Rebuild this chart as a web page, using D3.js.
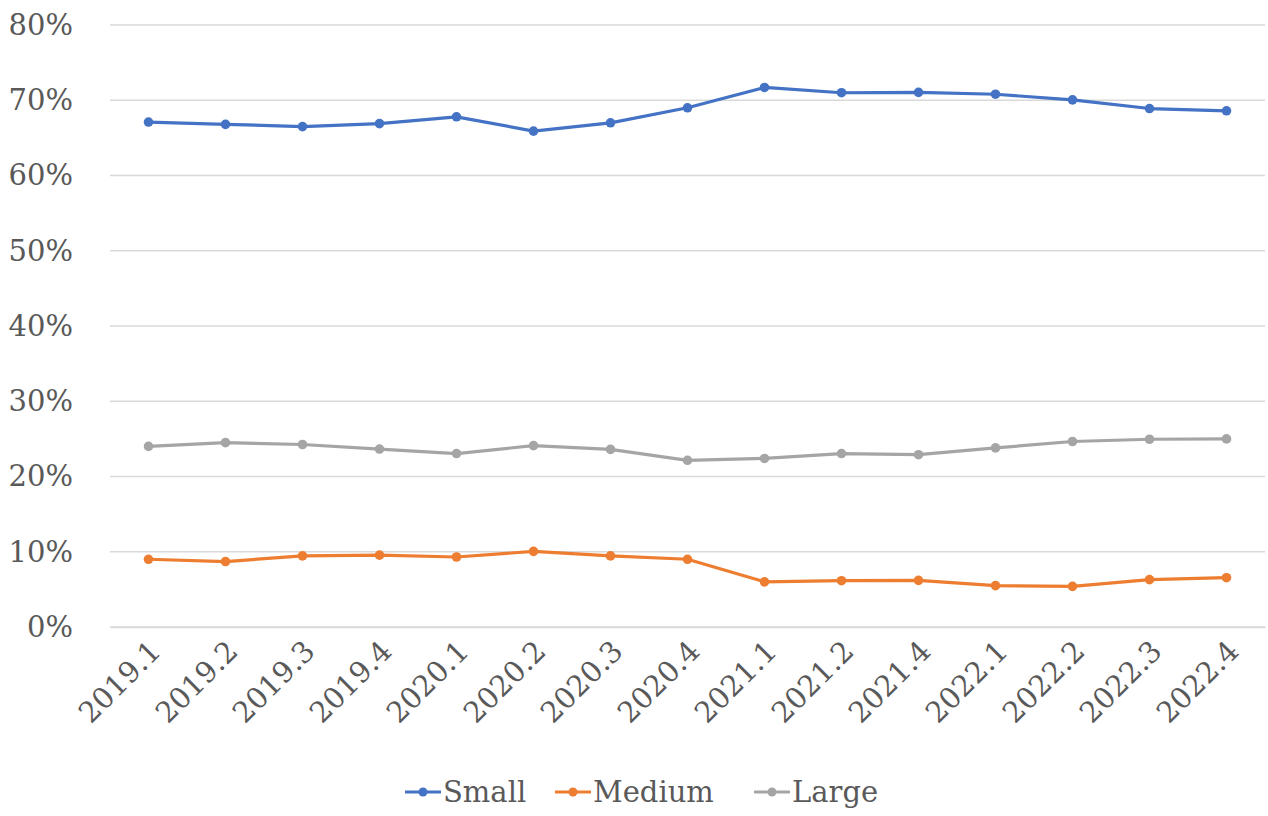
<!DOCTYPE html>
<html>
<head>
<meta charset="utf-8">
<script src="https://cdn.jsdelivr.net/npm/d3@7"></script>
<style>
  html, body { margin: 0; padding: 0; background: #fff; }
  svg { display: block; }
  text { font-family: "DejaVu Serif", "Liberation Serif", serif; fill: #595959; }
</style>
</head>
<body>
<svg id="chart" width="1268" height="816"></svg>
<script>
// Quarterly share by company size (%)
const quarters = ["2019.1","2019.2","2019.3","2019.4","2020.1","2020.2","2020.3","2020.4",
                  "2021.1","2021.2","2021.4","2022.1","2022.2","2022.3","2022.4"];
const small  = [67.1, 66.8, 66.5, 66.9, 67.8, 65.9, 67.0, 69.0, 71.7, 71.0, 71.05, 70.8, 70.05, 68.9, 68.6];
const medium = [9.0, 8.7, 9.45, 9.55, 9.3, 10.05, 9.45, 9.0, 6.0, 6.15, 6.2, 5.5, 5.4, 6.3, 6.55];
const large  = [24.0, 24.5, 24.25, 23.65, 23.05, 24.1, 23.6, 22.15, 22.4, 23.05, 22.9, 23.8, 24.65, 24.95, 25.0];
const yTicks = [0, 10, 20, 30, 40, 50, 60, 70, 80];

const series = [
  { name: "Small",  values: small,  color: "#4472C4" },
  { name: "Medium", values: medium, color: "#ED7D31" },
  { name: "Large",  values: large,  color: "#A5A5A5" }
];

const svg = d3.select("#chart");
const plot = { left: 110, right: 1265, top: 25, bottom: 627 };
const fontSize = "29px";

const x = d3.scaleBand().domain(quarters).range([plot.left, plot.right]);
const y = d3.scaleLinear().domain([0, 80]).range([plot.bottom, plot.top]);
const cx = d => x(d) + x.bandwidth() / 2;

// Horizontal gridlines
svg.append("g").selectAll("line").data(yTicks).join("line")
  .attr("x1", plot.left).attr("x2", plot.right)
  .attr("y1", d => y(d)).attr("y2", d => y(d))
  .attr("stroke", "#D9D9D9").attr("stroke-width", 1.3);

// Y axis labels
const yAxis = svg.append("g")
  .attr("transform", `translate(${plot.left},0)`)
  .call(d3.axisLeft(y).tickValues(yTicks).tickFormat(d => d + "%").tickSize(0).tickPadding(37));
yAxis.select(".domain").remove();
yAxis.selectAll("text")
  .style("font-family", "'DejaVu Serif', serif")
  .style("font-size", fontSize).attr("fill", "#595959");

// X axis labels, rotated
const xAxis = svg.append("g")
  .attr("transform", `translate(0,${plot.bottom})`)
  .call(d3.axisBottom(x).tickSize(0).tickPadding(0));
xAxis.select(".domain")
  .attr("stroke", "#D9D9D9").attr("stroke-width", 1.3);
xAxis.selectAll("text")
  .style("font-family", "'DejaVu Serif', serif")
  .style("font-size", fontSize).attr("fill", "#595959")
  .attr("text-anchor", "end")
  .attr("dy", 0).attr("y", 0)
  .attr("transform", "translate(14,26) rotate(-45)");

// Lines and markers
const line = d3.line()
  .x((d, i) => cx(quarters[i]))
  .y(d => y(d));

series.forEach(s => {
  svg.append("path")
    .datum(s.values)
    .attr("d", line)
    .attr("fill", "none")
    .attr("stroke", s.color)
    .attr("stroke-width", 3.2)
    .attr("stroke-linejoin", "round");
  svg.append("g").selectAll("circle").data(s.values).join("circle")
    .attr("cx", (d, i) => cx(quarters[i]))
    .attr("cy", d => y(d))
    .attr("r", 4.8)
    .attr("fill", s.color);
});

// Legend
const legendItems = [
  { s: series[0], x: 405 },
  { s: series[1], x: 555 },
  { s: series[2], x: 754 }
];
const legendY = 792;
const lg = svg.append("g");
legendItems.forEach(it => {
  lg.append("line")
    .attr("x1", it.x).attr("x2", it.x + 36)
    .attr("y1", legendY).attr("y2", legendY)
    .attr("stroke", it.s.color).attr("stroke-width", 3.2);
  lg.append("circle")
    .attr("cx", it.x + 18).attr("cy", legendY).attr("r", 4.5)
    .attr("fill", it.s.color);
  lg.append("text")
    .attr("x", it.x + 38).attr("y", legendY)
    .attr("dy", "0.35em")
    .style("font-size", fontSize)
    .text(it.s.name);
});
</script>
</body>
</html>
